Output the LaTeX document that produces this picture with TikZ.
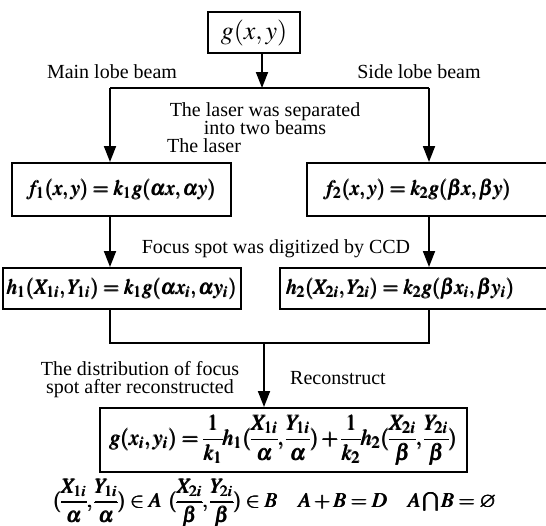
\documentclass[tikz,border=0pt]{standalone}
\usepackage{amsmath,amssymb}
\usepackage{mathptmx}
\usepackage[no-math]{fontspec}
\setmainfont{Liberation Serif}
\usepackage{tikz}
\usetikzlibrary{positioning,arrows.meta}

\begin{document}
\lineskiplimit=-5pt \nulldelimiterspace=0pt
\begin{tikzpicture}[x=0.5pt, y=-0.5pt, font=\fontsize{10}{9}\selectfont,
  box/.style={draw=black, line width=1pt, align=center, inner sep=2pt, fill=white},
  eq/.style={font=\fontsize{10.5}{12}\selectfont},
  lbl/.style={align=center, inner sep=0pt},
  arr/.style={-{Triangle[length=8pt, width=6pt]}, line width=0.9pt}, ln/.style={line width=0.9pt}]
\useasboundingbox (0,0) rectangle (546,525);
\coordinate (lcol) at (110,0); \coordinate (rcol) at (429,0);
\coordinate (split) at (262,88); \coordinate (merge) at (264,343);
\node[box, minimum width=46pt, minimum height=20.5pt, font=\fontsize{13}{12}\selectfont] (gxy) at (254,32.5) {$g(x,y)$};
\node[box, eq, minimum width=109.5pt, minimum height=26.5pt] (f1) at (121.5,189.5) {$\pmb{f_1(x,y)=k_1g(\alpha x,\alpha y)}$};
\node[box, eq, minimum width=120pt, minimum height=26.5pt] (f2) at (426.5,189.5) {$\pmb{f_2(x,y)=k_2g(\beta x,\beta y)}\hspace{9pt}$};
\node[box, eq, minimum width=110pt, minimum height=20.5pt] (h1) at (122,288.5) {$\pmb{h_1(X_{1i},Y_{1i})=k_1g(\alpha x_i,\alpha y_i)}$};
\node[box, eq, minimum width=133.5pt, minimum height=20.5pt] (h2) at (413.5,288.5) {$\pmb{h_2(X_{2i},Y_{2i})=k_2g(\beta x_i,\beta y_i)}\hspace{13pt}$};
\node[box, font=\fontsize{11}{12}\selectfont, minimum width=183.5pt, minimum height=32pt] (rec) at (283.5,440) {$\pmb{g(x_i,y_i)=\dfrac{1}{k_1}h_1(\dfrac{X_{1i}}{\alpha},\dfrac{Y_{1i}}{\alpha})+\dfrac{1}{k_2}h_2(\dfrac{X_{2i}}{\beta},\dfrac{Y_{2i}}{\beta})}$};
\node[lbl] (main) at (112,72) {Main lobe beam};
\node[lbl] (side) at (419,72) {Side lobe beam};
\node[lbl] (sep) at (265,119) {The laser was separated\\into two beams};
\node[lbl] (laser) at (204,146) {The laser};
\node[lbl] (ccd) at (276,249) {Focus spot was digitized by CCD};
\node[lbl] (dist) at (140,380) {The distribution of focus\\spot after reconstructed};
\node[lbl] (recon) at (338,378) {Reconstruct};
\node[lbl, font=\fontsize{10.5}{12}\selectfont] (sets) at (275,503) {$\pmb{(\dfrac{X_{1i}}{\alpha},\dfrac{Y_{1i}}{\alpha})\in A\;\,(\dfrac{X_{2i}}{\beta},\dfrac{Y_{2i}}{\beta})\in B\quad A+B=D\quad A\bigcap B=\varnothing}$};
\draw[arr] (gxy.south -| split) -- (split); \draw[ln] (split) -- (split -| lcol);
\draw[ln] (split) -- (split -| rcol);
\draw[arr] (split -| lcol) -- (f1.north -| lcol); \draw[arr] (split -| rcol) -- (f2.north -| rcol);
\draw[arr] (f1.south -| lcol) -- (h1.north -| lcol); \draw[arr] (f2.south -| rcol) -- (h2.north -| rcol);
\draw[ln] (h1.south -| lcol) |- (merge); \draw[ln] (h2.south -| rcol) |- (merge);
\draw[arr] (merge) -- (rec.north -| merge);
\end{tikzpicture}
\end{document}
